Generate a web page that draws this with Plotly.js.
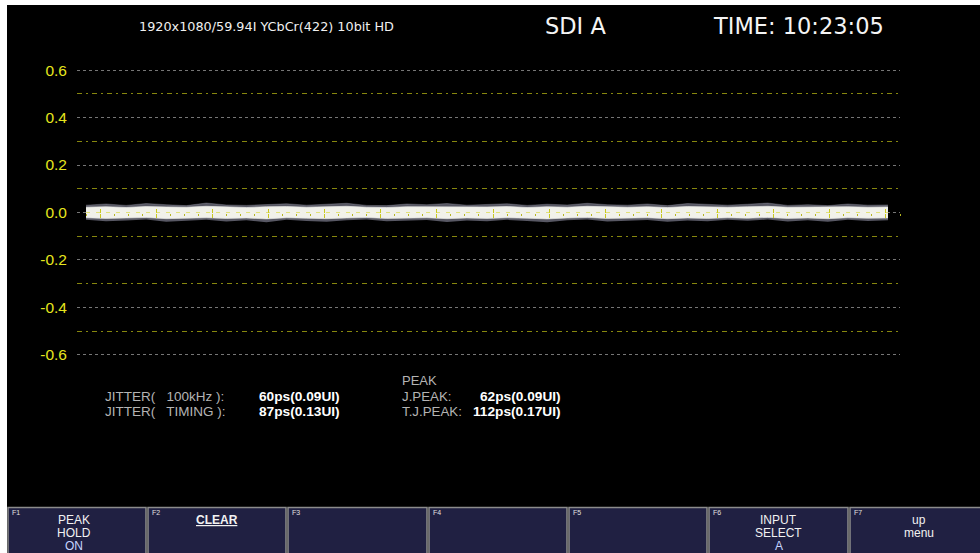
<!DOCTYPE html>
<html>
<head>
<meta charset="utf-8">
<script src="https://cdn.plot.ly/plotly-3.0.1.min.js"></script>
<style>
  html, body { margin: 0; padding: 0; background: #ffffff; width: 980px; height: 553px; overflow: hidden; }
  #chart { position: absolute; left: 7px; top: 5px; width: 973px; height: 548px; }
</style>
</head>
<body>
<div id="chart"></div>
<script>
// ---- data ----
const yTickVals = [-0.6, -0.4, -0.2, 0.0, 0.2, 0.4, 0.6];
const yTickText = ["-0.6", "-0.4", "-0.2", "0.0", "0.2", "0.4", "0.6"];
const yMinorVals = [-0.5, -0.3, -0.1, 0.1, 0.3, 0.5];

const sampleX = [0, 20, 40, 60, 80, 100, 120, 140, 160, 180, 200, 220, 240, 260, 280, 300, 320, 340, 360, 380,
                 400, 420, 440, 460, 480, 500, 520, 540, 560, 580, 600, 620, 640, 660, 680, 700, 720, 740, 760, 780, 800];
const coreUpper = [0.022, 0.024, 0.021, 0.025, 0.023, 0.022, 0.026, 0.023, 0.021, 0.024, 0.025, 0.022, 0.023, 0.026, 0.022, 0.021, 0.024, 0.023, 0.025, 0.022,
                   0.023, 0.025, 0.021, 0.024, 0.022, 0.026, 0.023, 0.022, 0.024, 0.021, 0.025, 0.023, 0.022, 0.024, 0.026, 0.022, 0.023, 0.021, 0.024, 0.022, 0.023];
const coreLower = [-0.022, -0.025, -0.023, -0.021, -0.026, -0.024, -0.022, -0.025, -0.023, -0.027, -0.022, -0.024, -0.026, -0.023, -0.021, -0.025, -0.024, -0.022, -0.026, -0.023,
                   -0.025, -0.022, -0.024, -0.027, -0.023, -0.021, -0.025, -0.024, -0.022, -0.026, -0.023, -0.025, -0.022, -0.024, -0.021, -0.025, -0.023, -0.026, -0.022, -0.024, -0.023];
const haloUpper = [0.031, 0.036, 0.030, 0.038, 0.033, 0.029, 0.040, 0.032, 0.030, 0.035, 0.037, 0.031, 0.034, 0.039, 0.030, 0.029, 0.036, 0.033, 0.038, 0.031,
                   0.034, 0.037, 0.030, 0.035, 0.032, 0.039, 0.033, 0.031, 0.036, 0.029, 0.038, 0.034, 0.031, 0.035, 0.040, 0.030, 0.033, 0.029, 0.036, 0.031, 0.032];
const haloLower = [-0.031, -0.037, -0.034, -0.030, -0.039, -0.035, -0.031, -0.038, -0.033, -0.041, -0.031, -0.036, -0.039, -0.033, -0.030, -0.037, -0.035, -0.032, -0.040, -0.034,
                   -0.037, -0.031, -0.036, -0.041, -0.033, -0.030, -0.038, -0.035, -0.032, -0.039, -0.034, -0.037, -0.031, -0.035, -0.030, -0.038, -0.033, -0.039, -0.031, -0.036, -0.033];

const headerFormat = "1920x1080/59.94I YCbCr(422) 10bit HD";
const headerInput = "SDI A";
const headerTime = "TIME: 10:23:05";

const jitterLabels = ["JITTER(\u00a0\u00a0 100kHz ):", "JITTER(\u00a0\u00a0 TIMING ):"];
const jitterValues = ["60ps(0.09UI)", "87ps(0.13UI)"];
const peakTitle = "PEAK";
const peakLabels = ["J.PEAK:", "T.J.PEAK:"];
const peakValues = ["62ps(0.09UI)", "112ps(0.17UI)"];

const fkeyNames = ["F1", "F2", "F3", "F4", "F5", "F6", "F7"];
const fkeyLines = [["PEAK", "HOLD", "ON"], ["<u><b>CLEAR</b></u>"], [], [], [], ["INPUT", "SELECT", "A"], ["up", "menu"]];

// ---- layout helpers ----
const YR = 0.605;                       // a hair past 0.6 so the edge gridlines are drawn
const PL = 77, PR = 900;
const PX_PER_UNIT = 285 / 1.2;          // 0.6 at y=70, -0.6 at y=355
const PT = 212.5 - YR * PX_PER_UNIT, PB = 212.5 + YR * PX_PER_UNIT;
const px = X => (X - PL) / (PR - PL);
const py = Y => (PB - Y) / (PB - PT);

const YELLOW = "#e6e61e";
const FONT = "Liberation Sans, Arial, sans-serif";
const DJ = "DejaVu Sans, sans-serif";

const traces = [
  { x: sampleX, y: haloLower, type: "scatter", mode: "lines", line: { width: 0, color: "rgba(0,0,0,0)" }, hoverinfo: "skip", showlegend: false },
  { x: sampleX, y: haloUpper, type: "scatter", mode: "lines", fill: "tonexty", fillcolor: "rgba(175,175,200,0.5)", line: { width: 0.6, color: "rgba(190,190,210,0.45)" }, hoverinfo: "skip", showlegend: false },
  { x: sampleX, y: coreLower, type: "scatter", mode: "lines", line: { width: 0.8, color: "rgba(225,225,225,0.85)" }, hoverinfo: "skip", showlegend: false },
  { x: sampleX, y: coreUpper, type: "scatter", mode: "lines", fill: "tonexty", fillcolor: "rgba(246,246,238,0.97)", line: { width: 0.8, color: "rgba(232,232,228,0.9)" }, hoverinfo: "skip", showlegend: false }
];

const annotations = [];
function txt(text, X, Y, opts) {
  annotations.push(Object.assign({
    text: text, xref: "paper", yref: "paper", x: px(X), y: py(Y),
    xanchor: "left", yanchor: "middle", showarrow: false,
    font: { family: FONT, size: 13, color: "#ffffff" }
  }, opts || {}));
}

txt(headerFormat, 137, 26, { font: { family: DJ, size: 12.8, color: "#f0f0f0" } });
txt(headerInput, 543, 26, { font: { family: DJ, size: 22.5, color: "#f4f4f4" } });
txt(headerTime, 711, 26, { font: { family: DJ, size: 22.5, color: "#f4f4f4" } });

jitterLabels.forEach((t, i) => txt(t, 103, 396.5 + 15 * i, { font: { family: FONT, size: 13.5, color: "#b4b4b4" } }));
jitterValues.forEach((t, i) => txt("<b>" + t + "</b>", 257, 396.5 + 15 * i, { font: { family: FONT, size: 13.7, color: "#ffffff" } }));
txt(peakTitle, 400, 380.5, { font: { family: FONT, size: 13, color: "#b4b4b4" } });
peakLabels.forEach((t, i) => txt(t, 400, 396.5 + 15 * i, { font: { family: FONT, size: 13.3, color: "#b4b4b4" } }));
peakValues.forEach((t, i) => txt("<b>" + t + "</b>", 563, 396.5 + 15 * i, { xanchor: "right", font: { family: FONT, size: 13.7, color: "#ffffff" } }));

const shapes = [
  { type: "line", xref: "x", yref: "y", x0: 0, x1: 800, y0: 0, y1: 0, layer: "above",
    line: { color: "rgba(215,215,40,0.6)", width: 1, dash: "4px,6px" } }
];

const btnEdges = [7, 147, 287, 428, 568, 708, 849, 990];
for (let i = 0; i < 7; i++) {
  const x0 = btnEdges[i] + 1, x1 = btnEdges[i + 1] - 1;
  shapes.push({ type: "rect", xref: "paper", yref: "paper", x0: px(x0), x1: px(x1), y0: py(508), y1: py(560),
    fillcolor: "#202042", line: { color: "#8c8c8c", width: 1.5 }, layer: "above" });
  txt(fkeyNames[i], x0 + 2, 513, { font: { family: FONT, size: 7, color: "#e0e0e0" } });
  let cx = (btnEdges[i] + btnEdges[i + 1]) / 2;
  if (i === 0) cx = 74;
  if (i === 6) cx = 919;
  fkeyLines[i].forEach((t, j) => {
    const isState = (j === 2);
    txt(t, cx, 520.5 + 13.2 * j, { xanchor: "center",
      font: { family: FONT, size: 12, color: isState ? "#c6d4ff" : "#f2f2f2" } });
  });
}

const layout = {
  width: 973, height: 548,
  margin: { l: PL - 7, r: 980 - PR, t: PT - 5, b: 553 - PB, pad: 0 },
  paper_bgcolor: "#000000", plot_bgcolor: "#000000",
  showlegend: false,
  xaxis: {
    range: [-9, 812], anchor: "free", position: 0.5, fixedrange: true,
    showgrid: false, zeroline: false, showline: false, showticklabels: false,
    ticks: "outside", ticklen: 4, tickwidth: 1, tickcolor: "#c8c820",
    tick0: 14, dtick: 56, layer: "above traces",
    minor: { ticks: "outside", ticklen: 2, tickcolor: "#b4b420", tick0: 0, dtick: 14 }
  },
  xaxis2: {
    range: [-9, 812], overlaying: "x", anchor: "free", position: 0.5, fixedrange: true,
    showgrid: false, zeroline: false, showline: false, showticklabels: false,
    ticks: "inside", ticklen: 4, tickwidth: 1, tickcolor: "#c8c820",
    tick0: 14, dtick: 56, layer: "above traces"
  },
  yaxis: {
    range: [-YR, YR], fixedrange: true, anchor: "x",
    tickmode: "array", tickvals: yTickVals, ticktext: yTickText,
    ticks: "", ticklabelstandoff: 9,
    tickfont: { family: FONT, size: 15.5, color: YELLOW },
    showgrid: true, gridcolor: "#767676", gridwidth: 1, griddash: "dot",
    zeroline: false, showline: false,
    minor: { tickmode: "array", tickvals: yMinorVals, showgrid: true, gridcolor: "#87870e", gridwidth: 1, griddash: "5px,4px,2px,4px", ticks: "" }
  },
  shapes: shapes,
  annotations: annotations
};

// an invisible trace on xaxis2 so the second (inside-tick) axis is drawn
traces.push({ x: [0], y: [0], xaxis: "x2", type: "scatter", mode: "markers", marker: { opacity: 0 }, hoverinfo: "skip", showlegend: false });

Plotly.newPlot("chart", traces, layout, { displayModeBar: false, staticPlot: true });
</script>
</body>
</html>
